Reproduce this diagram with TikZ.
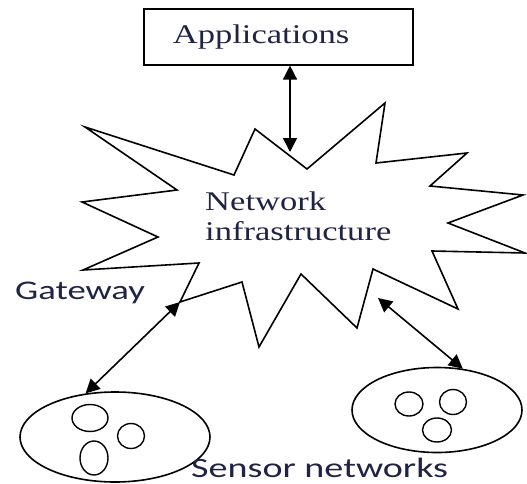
\documentclass[tikz,border=0pt]{standalone}
\usepackage{fontspec}
\usepackage{graphicx}
\setmainfont{Liberation Serif}
\newfontfamily\labelsans{Carlito}
\usetikzlibrary{arrows.meta,shapes.geometric}
\definecolor{inkblue}{RGB}{32,36,68}
\newcommand{\wide}[1]{\scalebox{1.28}[1]{#1}}
\newcommand{\widesans}[1]{\scalebox{1.36}[1]{#1}}
\tikzset{
  outline/.style={draw=black,line width=1.6pt,line join=miter},
  box/.style={outline,rectangle,inner ysep=0pt,inner xsep=29pt,
    text width=211pt,align=left,minimum height=56pt,
    font=\fontsize{27}{30}\selectfont,text=inkblue},
  cluster/.style={outline,ellipse,inner sep=0pt},
  sensor/.style={draw=black,line width=1.4pt,ellipse,inner sep=0pt},
  serifnote/.style={inner sep=0pt,align=left,
    font=\fontsize{27}{30}\selectfont,text=inkblue},
  sansnote/.style={inner sep=0pt,text=inkblue},
  link/.style={line width=1.6pt,{Triangle[length=14pt,width=14pt]}-{Triangle[length=14pt,width=14pt]}},
}
\begin{document}
\begin{tikzpicture}[x=1pt,y=-1pt]
\useasboundingbox (0,0) rectangle (527,484);

% application layer
\node[box,anchor=north west] (app) at (143,8) {\wide{Applications}};

% network cloud (irregular star)
\draw[outline] (85,127) -- (234,175) -- (255,129) -- (307,169) -- (385,103)
  -- (376,163) -- (467,153) -- (430,186) -- (523,195) -- (448,223)
  -- (525,253) -- (432,251) -- (458,309) -- (373,269) -- (357,328)
  -- (301,274) -- (259,347) -- (242,282) -- (180,302) -- (199,263)
  -- (83,270) -- (158,237) -- (82,202) -- (177,190) -- cycle;
\coordinate (nettop) at (290,152);
\coordinate (netgw) at (180,302);
\coordinate (netright) at (378,298);

% base anchor of a two-line node sits on the last line
\node[serifnote,anchor=base west] (net) at (205,240)
  {\wide{Network}\\\wide{infrastructure}};

% sensor clusters
\node[cluster,minimum width=190pt,minimum height=90pt] (lsn) at (115,437) {};
\node[sensor,minimum width=36pt,minimum height=27pt] (l1) at (90,418) {};
\node[sensor,minimum width=27pt,minimum height=25pt] (l2) at (131,436) {};
\node[sensor,minimum width=28pt,minimum height=34pt] (l3) at (94,458) {};

\node[cluster,minimum width=170pt,minimum height=85pt] (rsn) at (437,410) {};
\node[sensor,minimum width=28pt,minimum height=24pt] (r1) at (409,404) {};
\node[sensor,minimum width=27pt,minimum height=25pt] (r2) at (453,402) {};
\node[sensor,minimum width=29pt,minimum height=24pt] (r3) at (437,430) {};

% labels
\node[sansnote,anchor=base west,font=\labelsans\fontsize{27}{32}\selectfont]
  (gw) at (15,299) {\widesans{Gateway}};
\node[sansnote,anchor=base west,font=\labelsans\fontsize{28}{33}\selectfont]
  (sn) at (191,477) {\widesans{Sensor networks}};

% links
\draw[link] (app.south -| nettop) -- (nettop);
\draw[link] (netgw) -- (lsn.124);
\draw[link] (netright) -- (rsn.58);
\end{tikzpicture}
\end{document}
